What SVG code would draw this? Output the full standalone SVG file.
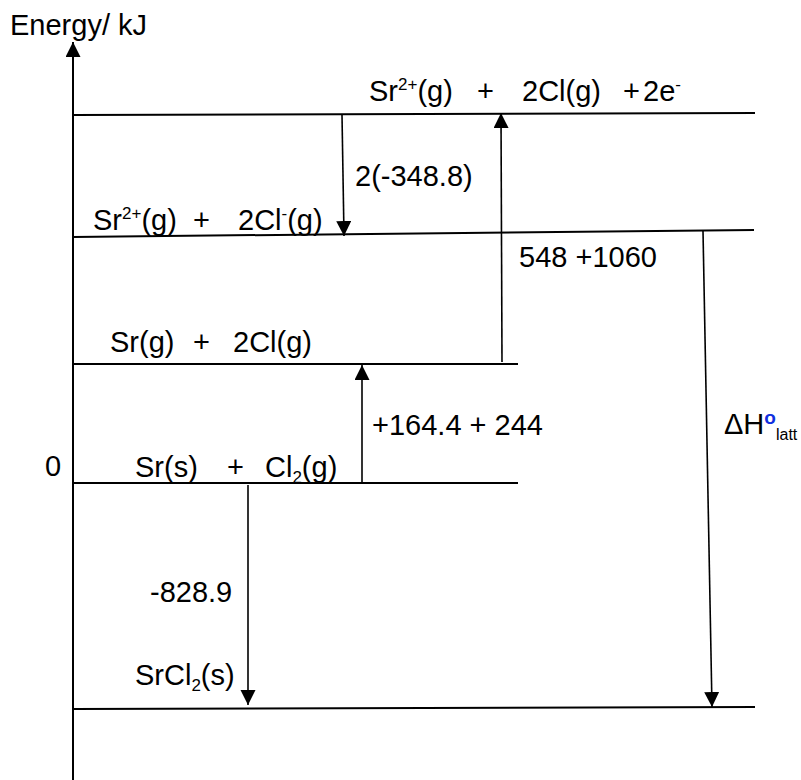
<svg xmlns="http://www.w3.org/2000/svg" width="801" height="780" viewBox="0 0 801 780">
<style>
text{font-family:"Liberation Sans",Arial,sans-serif;font-size:29px;fill:#000}
.sup{font-size:17px}
.sub{font-size:17px}
.lvl{stroke:#000;stroke-width:2;fill:none}
.arr{stroke:#000;stroke-width:1.6;fill:none;marker-end:url(#ah)}
</style>
<defs>
<marker id="ah" markerUnits="userSpaceOnUse" markerWidth="16" markerHeight="16" refX="15" refY="7.5" orient="auto">
<path d="M0,0 L15,7.5 L0,15 z" fill="#000"/>
</marker>
</defs>
<rect width="801" height="780" fill="#fff"/>
<g id="axis">
<line class="arr" x1="73" y1="780" x2="73" y2="42" style="stroke-width:2"/>
<text x="10" y="35">Energy/ kJ</text>
<text x="45" y="476">0</text>
</g>
<g id="level-ions-atoms">
<line class="lvl" x1="73" y1="115" x2="755" y2="113"/>
<text y="101"><tspan x="369">Sr</tspan><tspan class="sup" dy="-11">2+</tspan><tspan dy="11">(g)</tspan><tspan x="477">+</tspan><tspan x="522">2Cl(g)</tspan><tspan x="623">+</tspan><tspan x="643">2e</tspan><tspan class="sup" dy="-11">-</tspan></text>
</g>
<g id="level-ions">
<line class="lvl" x1="73" y1="237" x2="754" y2="230"/>
<text y="230"><tspan x="93">Sr</tspan><tspan class="sup" dy="-11">2+</tspan><tspan dy="11">(g)</tspan><tspan x="193">+</tspan><tspan x="238">2Cl</tspan><tspan class="sup" dy="-11">-</tspan><tspan dy="11">(g)</tspan></text>
</g>
<g id="level-gas-atoms">
<line class="lvl" x1="73" y1="364" x2="518" y2="364"/>
<text y="352"><tspan x="110">Sr(g)</tspan><tspan x="193">+</tspan><tspan x="233">2Cl(g)</tspan></text>
</g>
<g id="level-elements">
<line class="lvl" x1="73" y1="483" x2="518" y2="483"/>
<text y="477"><tspan x="135">Sr(s)</tspan><tspan x="227">+</tspan><tspan x="265">Cl</tspan><tspan class="sub" dy="6">2</tspan><tspan dy="-6">(g)</tspan></text>
</g>
<g id="level-lattice">
<line class="lvl" x1="73" y1="709" x2="755" y2="707"/>
<text y="685"><tspan x="135">SrCl</tspan><tspan class="sub" dy="6">2</tspan><tspan dy="-6">(s)</tspan></text>
</g>
<g id="connectors">
<line class="arr" x1="342" y1="115" x2="344" y2="236"/>
<line class="arr" x1="502" y1="362" x2="501" y2="113"/>
<line class="arr" x1="362" y1="483" x2="362" y2="365"/>
<line class="arr" x1="248" y1="485" x2="248" y2="705"/>
<line class="arr" x1="703" y1="231" x2="712" y2="707"/>
<text x="355" y="186">2(-348.8)</text>
<text x="519" y="267">548 +1060</text>
<text x="372" y="435">+164.4 + 244</text>
<text x="150" y="602">-828.9</text>
<text y="434"><tspan x="724">ΔH</tspan><tspan dy="-10" style="fill:#1030e0;font-weight:bold;font-size:19px">o</tspan><tspan dy="16" style="font-size:16px">latt</tspan></text>
</g>
</svg>
